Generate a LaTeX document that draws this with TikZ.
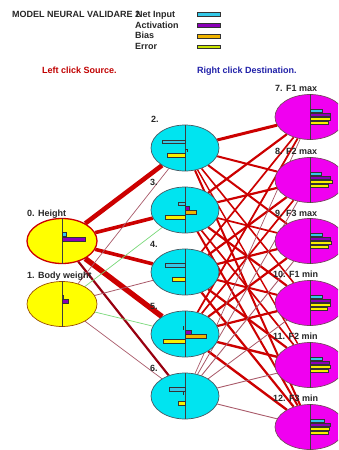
\documentclass[tikz,border=0pt]{standalone}
\usepackage{fontspec}
\setmainfont{Liberation Sans}
\usetikzlibrary{shapes.geometric}
\pgfdeclarelayer{bg}
\pgfsetlayers{bg,main}
\definecolor{cNet}{HTML}{33C8E8}
\definecolor{cAct}{HTML}{8A00B8}
\definecolor{cBias}{HTML}{F0B400}
\definecolor{cErr}{HTML}{C8E400}
\definecolor{cErrN}{HTML}{F8F000}
\definecolor{cIn}{HTML}{FFFF00}
\definecolor{cHid}{HTML}{00E4F0}
\definecolor{cOut}{HTML}{F000F0}
\definecolor{cRed}{HTML}{CC0000}
\definecolor{cDRed}{HTML}{980010}
\definecolor{cMauve}{HTML}{A85868}
\definecolor{cGreen}{HTML}{78D878}
\definecolor{cSrc}{HTML}{C00000}
\definecolor{cDst}{HTML}{2020A8}
\begin{document}
\begin{tikzpicture}[x=1pt,y=-1pt,
  font=\bfseries\fontsize{9}{10}\selectfont,
  inp/.style={ellipse, fill=cIn, minimum width=70pt, minimum height=45pt, inner sep=0pt},
  hid/.style={ellipse, fill=cHid, draw=black!70!cyan, line width=0.7pt, minimum width=68pt, minimum height=46pt, inner sep=0pt},
  outp/.style={ellipse, fill=cOut, draw=black!60!magenta, line width=0.7pt, minimum width=70pt, minimum height=45pt, inner sep=0pt},
  lbl/.style={anchor=base west, inner sep=0pt, text=black!85},
  bar/.style={draw=black!80, line width=0.6pt},
  mid/.style={draw=black!75, line width=0.7pt},
  wt/.style={line width=#1, cRed},
]
\useasboundingbox (0,0) rectangle (338,450);
\clip (0,0) rectangle (338,450);

% header
\node[lbl] (title) at (12,17) {MODEL NEURAL VALIDARE 2};
\node[lbl] (lnet) at (136,17) {Net Input};
\node[lbl] (lact) at (135,28) {Activation};
\node[lbl] (lbias) at (135,38.5) {Bias};
\node[lbl] (lerr) at (135,49) {Error};
\filldraw[bar, fill=cNet] (197,12.5) rectangle (220,16);
\filldraw[bar, fill=cAct] (197,23.5) rectangle (220,27);
\filldraw[bar, fill=cBias] (197,34.5) rectangle (220,38);
\filldraw[bar, fill=cErr] (197,45) rectangle (220,48.5);
\node[lbl, text=cSrc] (src) at (42,73) {Left click Source.};
\node[lbl, text=cDst] (dst) at (197,73) {Right click Destination.};

% nodes
\node[inp, draw=cRed, line width=1.3pt] (n0) at (62,241) {};
\node[inp, draw=black!40!orange, line width=0.7pt] (n1) at (62,304) {};
\node[hid] (n2) at (185,148) {};
\node[hid] (n3) at (185,210) {};
\node[hid] (n4) at (185,272) {};
\node[hid] (n5) at (185,334) {};
\node[hid] (n6) at (185,396) {};
\node[outp] (n7) at (310,117) {};
\node[outp] (n8) at (310,180) {};
\node[outp] (n9) at (310,241) {};
\node[outp] (n10) at (310,303) {};
\node[outp] (n11) at (310,365) {};
\node[outp] (n12) at (310,427) {};

% labels
\node[lbl] (t0) at (27,216) {0. Height};
\node[lbl] (t1) at (27,278) {1. Body weight};
\node[lbl] (t2) at (151,122) {2.};
\node[lbl] (t3) at (150,185) {3.};
\node[lbl] (t4) at (150,247) {4.};
\node[lbl] (t5) at (150,309) {5.};
\node[lbl] (t6) at (150,371) {6.};
\node[lbl] (t7) at (275,91) {7. F1 max};
\node[lbl] (t8) at (275,154) {8. F2 max};
\node[lbl] (t9) at (275,216) {9. F3 max};
\node[lbl] (t10) at (273,277) {10. F1 min};
\node[lbl] (t11) at (273,339) {11. F2 min};
\node[lbl] (t12) at (273,401) {12. F3 min};

% connections
\begin{pgfonlayer}{bg}
\draw[wt=4.6pt] (n0) -- (n2);
\draw[wt=3.6pt] (n0) -- (n3);
\draw[wt=3.6pt] (n0) -- (n4);
\draw[wt=5.4pt] (n0) -- (n5);
\draw[line width=2.2pt, cDRed] (n0) -- (n6);
\draw[line width=0.7pt, cMauve] (n1) -- (n2);
\draw[line width=0.7pt, cGreen] (n1) -- (n3);
\draw[line width=0.8pt, cMauve] (n1) -- (n4);
\draw[line width=0.7pt, cGreen] (n1) -- (n5);
\draw[line width=0.7pt, cMauve] (n1) -- (n6);
\foreach \j/\w in {7/3pt,8/2pt,9/2pt,10/1.6pt,11/1.4pt,12/2pt}
  \draw[wt=\w] (n2) -- (n\j);
\foreach \j/\w in {7/2.2pt,8/2.2pt,9/1.7pt,10/2.2pt,11/1.7pt,12/2pt}
  \draw[wt=\w] (n3) -- (n\j);
\foreach \j/\w in {7/1.7pt,8/2.2pt,9/2.2pt,10/2pt,11/2.2pt,12/2.2pt}
  \draw[wt=\w] (n4) -- (n\j);
\foreach \j/\w in {7/1.8pt,8/1.7pt,9/2.2pt,10/2.2pt,11/2.4pt,12/2.4pt}
  \draw[wt=\w] (n5) -- (n\j);
\foreach \j/\w in {7/0.7pt,8/0.8pt,9/0.9pt,10/0.8pt,11/0.9pt,12/0.9pt}
  \draw[line width=\w, cMauve] (n6) -- (n\j);
\end{pgfonlayer}

% centre lines
\foreach \n in {n0,n1,n2,n3,n4,n5,n6,n7,n8,n9,n10,n11,n12}
  \draw[mid] (\n.north) -- (\n.south);

% bars: inputs
\filldraw[bar, fill=cNet] (62,232.5) rectangle (66,236.5);
\filldraw[bar, fill=cAct] (62,237) rectangle (85,241);
\draw[bar] (62,295) -- (63,295) -- (63,299);
\filldraw[bar, fill=cAct] (62,299) rectangle (68,303);
% hidden
\filldraw[bar, fill=cNet] (162,140) rectangle (185,143.5);
\filldraw[bar, fill=cErrN] (167,153.5) rectangle (185,157);
\draw[bar] (185,149) -- (187,149) -- (187,152);
\filldraw[bar, fill=cNet] (178,202) rectangle (185,205.5);
\filldraw[bar, fill=cAct] (185,206.5) rectangle (189,210);
\filldraw[bar, fill=cBias] (185,210.5) rectangle (196,214);
\filldraw[bar, fill=cErrN] (165,215.5) rectangle (185,219);
\filldraw[bar, fill=cNet] (165,263.5) rectangle (185,267);
\filldraw[bar, fill=cErrN] (172,277.5) rectangle (185,281);
\draw[bar] (183,326) -- (183,330);
\filldraw[bar, fill=cAct] (185,330) rectangle (191,334);
\filldraw[bar, fill=cBias] (185,334.5) rectangle (206,338);
\filldraw[bar, fill=cErrN] (163,339.5) rectangle (185,343);
\filldraw[bar, fill=cNet] (169,387.5) rectangle (185,391);
\draw[bar] (183,391) -- (183,395);
\filldraw[bar, fill=cErrN] (178,401.5) rectangle (185,405);
% outputs
\foreach \c/\a/\b/\d/\e in {117/12/20/20/18, 180/11/20/22/18, 241/12/20/21/18, 303/12/20/20/17, 365/12/19/20/18, 427/14/20/19/18} {
  \filldraw[bar, fill=cNet] (310,\c-8) rectangle (310+\a,\c-5);
  \filldraw[bar, fill=cAct] (310,\c-4) rectangle (310+\b,\c-1);
  \filldraw[bar, fill=cErrN] (310,\c) rectangle (310+\d,\c+3);
  \filldraw[bar, fill=cErrN] (310,\c+4) rectangle (310+\e,\c+7);
}
\end{tikzpicture}
\end{document}
